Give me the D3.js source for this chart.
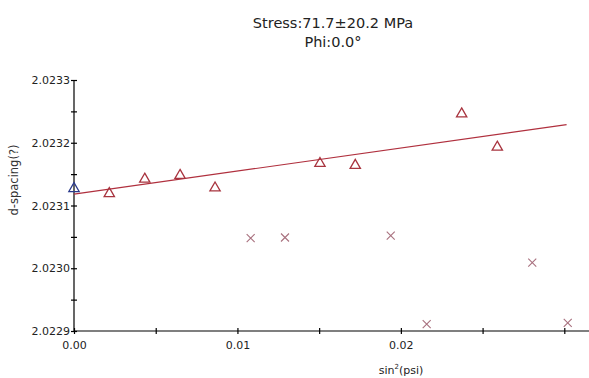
<!DOCTYPE html>
<html>
<head>
<meta charset="utf-8">
<script src="https://cdn.jsdelivr.net/npm/d3@7"></script>
<style>
  body { margin: 0; background: #fff; }
  svg { display: block; font-family: "DejaVu Sans", Verdana, sans-serif; }
</style>
</head>
<body>
<script>
// measured (triangles) and rejected (crosses) points, sin^2(psi) vs d-spacing
const usedX = [0.00216, 0.00433, 0.00649, 0.00863, 0.01505, 0.01721, 0.02372, 0.0259];
const usedY = [2.023119, 2.023142, 2.023148, 2.023128, 2.023167, 2.023164, 2.023246, 2.023193];
const firstX = [0.0];
const firstY = [2.023127];
const rejX = [0.01081, 0.01291, 0.01938, 0.02158, 0.02804, 0.03021];
const rejY = [2.023048, 2.023049, 2.023052, 2.022911, 2.023009, 2.022913];
const fitX = [0.0, 0.03014];
const fitY = [2.023118, 2.023229];
const xTicks = [0, 0.005, 0.01, 0.015, 0.02, 0.025, 0.03];
const xLabels = ["0.00", "", "0.01", "", "0.02", "", ""];
const yTicks = [2.0229, 2.02295, 2.023, 2.02305, 2.0231, 2.02315, 2.0232, 2.02325, 2.0233];
const yLabels = ["2.0229", "", "2.0230", "", "2.0231", "", "2.0232", "", "2.0233"];
const title = ["Stress:71.7\u00b120.2 MPa", "Phi:0.0\u00b0"];

const W = 589, H = 378;
const svg = d3.select("body").append("svg").attr("width", W).attr("height", H);

const x = d3.scaleLinear().domain([0, 0.03]).range([74, 564.3]);
const y = d3.scaleLinear().domain([2.0229, 2.0233]).range([331, 80]);

// title
svg.selectAll("text.title").data(title).join("text")
  .attr("class", "title")
  .attr("x", 333).attr("y", (d, i) => 28 + i * 19)
  .attr("text-anchor", "middle")
  .attr("font-size", "14.5px").attr("fill", "#222")
  .text(d => d);

// x axis
const xAxis = svg.append("g").attr("transform", `translate(0,${y.range()[0]})`)
  .call(d3.axisBottom(x).tickValues(xTicks).tickSize(3)
    .tickFormat((d, i) => xLabels[i]));
xAxis.select(".domain").remove();
xAxis.append("line").attr("x1", x.range()[0]).attr("x2", W)
  .attr("stroke", "#000").attr("stroke-width", 1.2);
xAxis.selectAll(".tick line").attr("y1", -3).attr("y2", 3).attr("stroke-width", 1.2);
xAxis.selectAll(".tick text").attr("y", 10).attr("font-size", "11px")
  .attr("font-family", "DejaVu Sans").attr("fill", "#222");

// y axis
const yAxis = svg.append("g").attr("transform", `translate(${x.range()[0]},0)`)
  .call(d3.axisLeft(y).tickValues(yTicks).tickSize(3)
    .tickFormat((d, i) => yLabels[i]));
yAxis.select(".domain").remove();
yAxis.append("line").attr("y1", y.range()[1]).attr("y2", y.range()[0])
  .attr("stroke", "#000").attr("stroke-width", 1.2);
yAxis.selectAll(".tick line").attr("x1", -3).attr("x2", 3).attr("stroke-width", 1.2);
yAxis.selectAll(".tick text").attr("x", -4).attr("font-size", "11px")
  .attr("font-family", "DejaVu Sans").attr("fill", "#222");

// axis titles
svg.append("text")
  .attr("transform", "translate(18,180) rotate(-90)")
  .attr("text-anchor", "middle").attr("font-size", "11.5px").attr("fill", "#333")
  .text("d-spacing(?)");
const xt = svg.append("text").attr("x", 401).attr("y", 374)
  .attr("text-anchor", "middle").attr("font-size", "11px").attr("fill", "#222");
xt.append("tspan").text("sin");
xt.append("tspan").attr("dy", -5).attr("font-size", "7px").text("2");
xt.append("tspan").attr("dy", 5).text("(psi)");

// fit line
svg.append("line")
  .attr("x1", x(fitX[0])).attr("y1", y(fitY[0]))
  .attr("x2", x(fitX[1])).attr("y2", y(fitY[1]))
  .attr("stroke", "#b0303e").attr("stroke-width", 1.2);

const tri = d3.symbol(d3.symbolTriangle, 46);

svg.selectAll("path.used").data(usedX).join("path")
  .attr("class", "used")
  .attr("d", tri)
  .attr("transform", (d, i) => `translate(${x(d)},${y(usedY[i])})`)
  .attr("fill", "none").attr("stroke", "#a8343f").attr("stroke-width", 1.3);

svg.selectAll("path.first").data(firstX).join("path")
  .attr("class", "first")
  .attr("d", tri)
  .attr("transform", (d, i) => `translate(${x(d)},${y(firstY[i])})`)
  .attr("fill", "none").attr("stroke", "#2a3a8c").attr("stroke-width", 1.3);

// rejected points
const s = 4;
svg.selectAll("path.rej").data(rejX).join("path")
  .attr("class", "rej")
  .attr("d", `M${-s},${-s}L${s},${s}M${-s},${s}L${s},${-s}`)
  .attr("transform", (d, i) => `translate(${x(d)},${y(rejY[i])})`)
  .attr("fill", "none").attr("stroke", "#a8707e").attr("stroke-width", 1.1);
</script>
</body>
</html>
